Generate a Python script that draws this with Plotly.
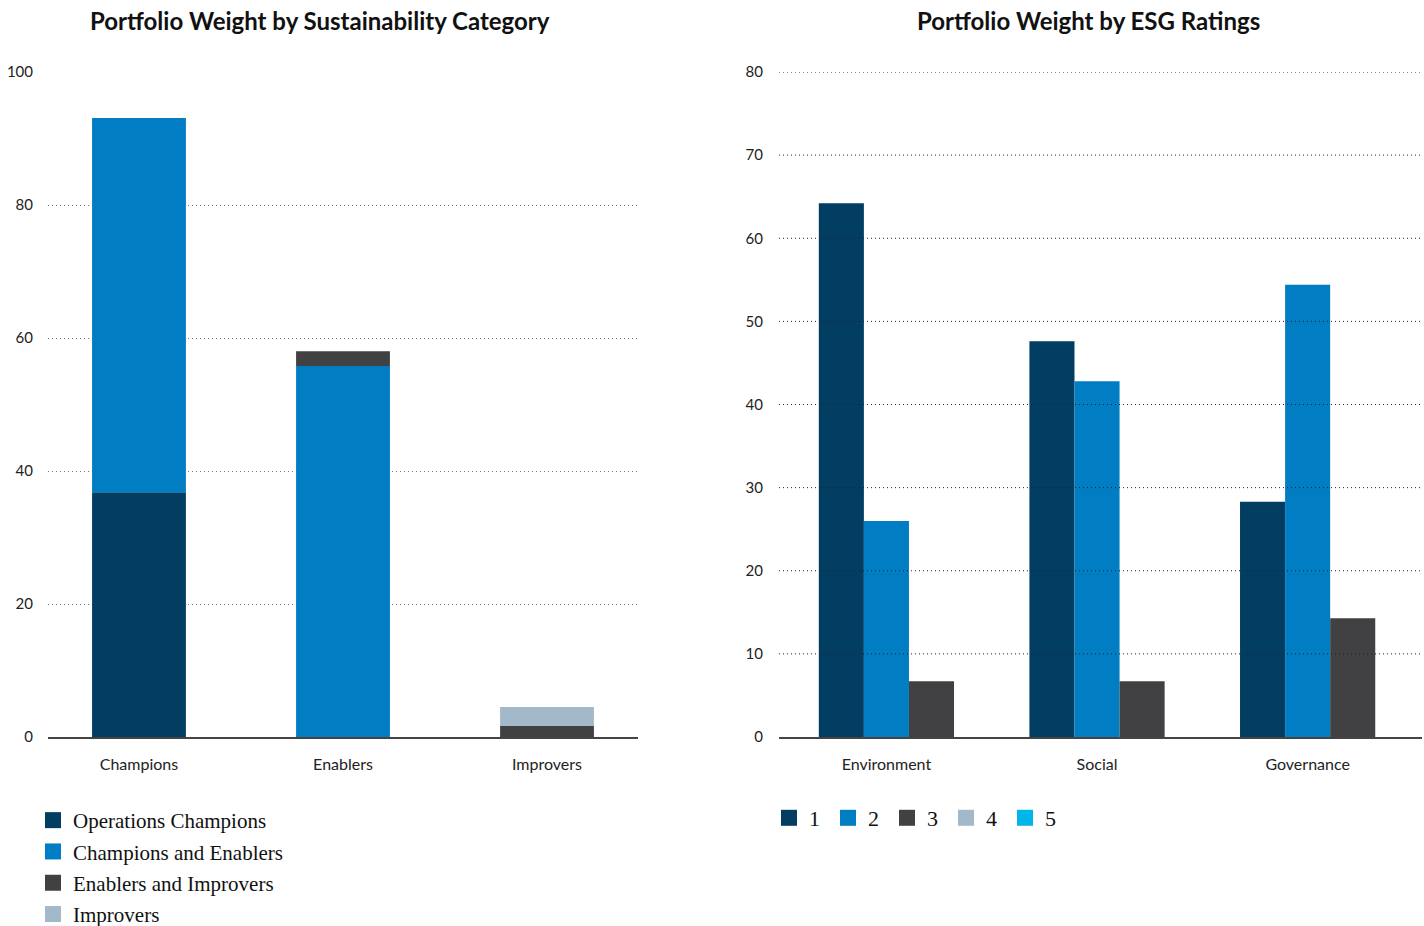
import plotly.graph_objects as go

# ---------------- data ----------------
sust_categories = ["Champions", "Enablers", "Improvers"]
sust_series = ["Operations Champions", "Champions and Enablers", "Enablers and Improvers", "Improvers"]
ops_champions = [36.8, 0, 0]
champ_enablers = [56.3, 55.8, 0]
enablers_improvers = [0, 2.2, 1.65]
improvers = [0, 0, 2.85]

esg_categories = ["Environment", "Social", "Governance"]
esg_series = ["1", "2", "3", "4", "5"]
rating_1 = [64.2, 47.6, 28.3]
rating_2 = [26.0, 42.8, 54.4]
rating_3 = [6.7, 6.7, 14.3]
rating_4 = [None, None, None]
rating_5 = [None, None, None]

left_ticks = [0, 20, 40, 60, 80, 100]
right_ticks = [0, 10, 20, 30, 40, 50, 60, 70, 80]

colors = ["#023d62", "#007dc3", "#414042", "#a3b8c9", "#00b6e9"]

SANS = "Lato"
SERIF = "Liberation Serif"

fig = go.Figure()

# ---- left: stacked bars (explicit bases, overlay mode) ----
left_vals = [ops_champions, champ_enablers, enablers_improvers, improvers]
base = [0.0] * len(sust_categories)
for name, vals, c in zip(sust_series, left_vals, colors):
    fig.add_trace(go.Bar(x=sust_categories, y=vals, base=list(base), name=name, marker_color=c,
                         marker_line_width=0, width=0.46, xaxis="x", yaxis="y",
                         showlegend=False, legendgroup=name))
    fig.add_trace(go.Scatter(x=[None], y=[None], mode="markers", name=name,
                             marker=dict(symbol="square", size=16, color=c),
                             xaxis="x", yaxis="y", legend="legend", legendgroup=name))
    base = [b + v for b, v in zip(base, vals)]

# ---- right: grouped bars ----
right_vals = [rating_1, rating_2, rating_3, rating_4, rating_5]
bw = 0.214
for i, (name, vals, c) in enumerate(zip(esg_series, right_vals, colors)):
    fig.add_trace(go.Bar(x=esg_categories, y=vals, name=name, marker_color=c,
                         marker_line_width=0, width=bw, offset=(-1.5 + i) * bw,
                         xaxis="x2", yaxis="y2", showlegend=False, legendgroup="r" + name))
    fig.add_trace(go.Scatter(x=[None], y=[None], mode="markers", name=name,
                             marker=dict(symbol="square", size=16, color=c),
                             xaxis="x2", yaxis="y2", legend="legend2", legendgroup="r" + name))

# dotted gridlines above bars on the right chart
for t in right_ticks[1:]:
    fig.add_shape(type="line", xref="x2 domain", yref="y2", x0=0, x1=1, y0=t, y1=t,
                  line=dict(color="#222222", width=1, dash="1px,3px"), layer="above")

y0p = (926 - 737) / 926
y1p = (926 - 72) / 926

axis_font = dict(family=SANS, size=16, color="#222222")
ytick_font = dict(family=SANS, size=15, color="#222222")

fig.update_layout(
    width=1424, height=926,
    margin=dict(l=0, r=0, t=0, b=0, autoexpand=False),
    paper_bgcolor="white", plot_bgcolor="white",
    barmode="overlay",
    showlegend=True,
    xaxis=dict(domain=[48 / 1424, 638 / 1424], range=[-0.446, 2.446],
               showline=True, linecolor="#444444", linewidth=1.5,
               showgrid=False, ticks="", tickfont=axis_font, ticklabelstandoff=12,
               automargin=False),
    yaxis=dict(domain=[y0p, y1p], range=[0, 100], tickvals=left_ticks,
               showgrid=True, gridcolor="#777777", griddash="1px,3px", gridwidth=1,
               zeroline=False, ticks="", tickfont=ytick_font, ticklabelstandoff=14,
               automargin=False),
    xaxis2=dict(domain=[779 / 1424, 1422 / 1424], range=[-0.51, 2.543],
                showline=True, linecolor="#444444", linewidth=1.5,
                showgrid=False, ticks="", tickfont=axis_font, ticklabelstandoff=12,
                automargin=False),
    yaxis2=dict(domain=[y0p, y1p], range=[0, 80], tickvals=right_ticks,
                showgrid=False, zeroline=False, ticks="", tickfont=ytick_font,
                ticklabelstandoff=15, anchor="x2", automargin=False),
    legend=dict(x=33 / 1424, y=(926 - 800) / 926, xanchor="left", yanchor="top",
                orientation="v", font=dict(family=SERIF, size=21, color="#111111"),
                itemsizing="trace", tracegroupgap=1, bgcolor="rgba(0,0,0,0)"),
    legend2=dict(x=769 / 1424, y=(926 - 797) / 926, xanchor="left", yanchor="top",
                 orientation="h", font=dict(family=SERIF, size=22, color="#111111"),
                 itemsizing="trace", entrywidth=14, bgcolor="rgba(0,0,0,0)"),
    annotations=[
        dict(text="<b>Portfolio Weight by Sustainability Category</b>", xref="paper", yref="paper",
             x=320 / 1424, y=(926 - 21) / 926, xanchor="center", yanchor="middle",
             showarrow=False, font=dict(family=SANS, size=24, color="#111111")),
        dict(text="<b>Portfolio Weight by ESG Ratings</b>", xref="paper", yref="paper",
             x=1088 / 1424, y=(926 - 21) / 926, xanchor="center", yanchor="middle",
             showarrow=False, font=dict(family=SANS, size=24, color="#111111")),
    ],
)
fig.update_xaxes(fixedrange=True)
fig.update_yaxes(fixedrange=True)

fig.write_html("out.html")
